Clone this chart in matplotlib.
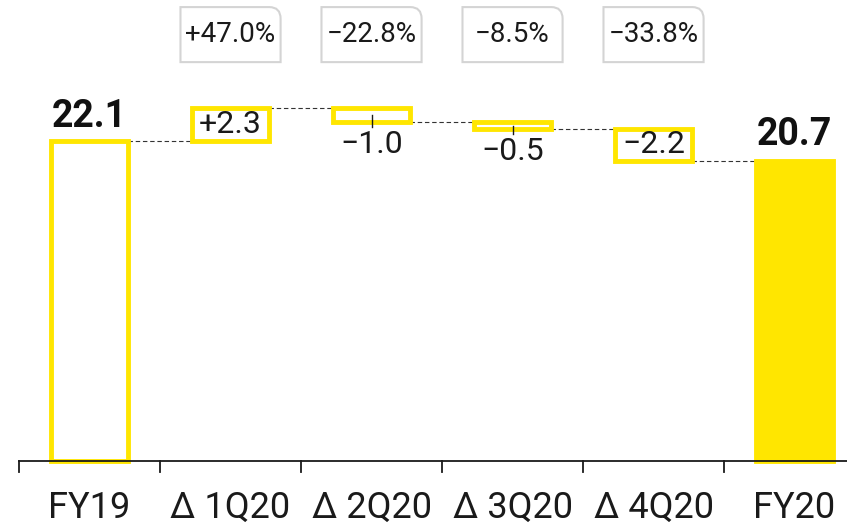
import numpy as np
import matplotlib.pyplot as plt
from matplotlib.path import Path
from matplotlib.patches import PathPatch

plt.rcParams['font.family'] = ['Roboto', 'DejaVu Sans']

# data
categories = ["FY19", "Δ 1Q20", "Δ 2Q20", "Δ 3Q20", "Δ 4Q20", "FY20"]
fy19 = 22.1
fy20 = 20.7
deltas = [2.3, -1.0, -0.5, -2.2]
delta_labels = ["+2.3", "\u22121.0", "\u22120.5", "\u22122.2"]
pct_labels = ["+47.0%", "\u221222.8%", "\u22128.5%", "\u221233.8%"]

yellow = "#FFE600"
w = 0.55

fig = plt.figure(figsize=(8.47, 5.27), dpi=100)
ax = fig.add_axes([0, 0, 1, 1])
ax.set_xlim(-0.635, 5.372)
ax.set_ylim(-4.56, 31.84)

# totals
ax.bar(0, fy19, width=w, facecolor="white", edgecolor=yellow, linewidth=3.5, zorder=2)
ax.bar(5, fy20, width=w, facecolor=yellow, edgecolor=yellow, linewidth=3.5, zorder=2)
ax.text(0, fy19 + 1.0, f"{fy19:.1f}", ha="center", va="baseline", fontsize=27, fontweight="bold", color="#111111")
ax.text(5, fy20 + 1.1, f"{fy20:.1f}", ha="center", va="baseline", fontsize=27, fontweight="bold", color="#111111")

# deltas
level = fy19
for i, (d, lab) in enumerate(zip(deltas, delta_labels)):
    x = i + 1
    bottom = min(level, level + d)
    ax.bar(x, abs(d), bottom=bottom, width=w, facecolor="white", edgecolor=yellow, linewidth=3.5, zorder=2)
    # connector from previous bar
    ax.plot([x - 1 + w / 2, x - w / 2], [level, level], color="#333333", lw=0.8, ls=(0, (4, 2.5)), zorder=1)
    if abs(d) >= 2:
        ax.text(x, bottom + 0.55, lab, ha="center", va="baseline", fontsize=23, color="#1a1a1a", zorder=3)
    else:
        ax.plot([x, x], [bottom + abs(d) / 2, bottom - 0.3], color="#1a1a1a", lw=1, zorder=3)
        ax.text(x, bottom - 2.1, lab, ha="center", va="baseline", fontsize=23, color="#1a1a1a", zorder=3)
    level += d
ax.plot([4 + w / 2, 5 - w / 2], [level, level], color="#333333", lw=0.8, ls=(0, (4, 2.5)), zorder=1)

# percentage boxes (top-right corner rounded)
bw, y0, y1 = 0.71, 27.55, 31.35
rx, ry = 0.08, 0.8
for i, p in enumerate(pct_labels):
    x = i + 1
    l, r = x - bw / 2, x + bw / 2
    verts = [(l, y0), (r, y0), (r, y1 - ry), (r, y1), (r - rx, y1), (l, y1), (l, y0)]
    codes = [Path.MOVETO, Path.LINETO, Path.LINETO, Path.CURVE3, Path.CURVE3, Path.LINETO, Path.CLOSEPOLY]
    ax.add_patch(PathPatch(Path(verts, codes), facecolor="white", edgecolor="#d4d4d4", lw=1.5))
    ax.text(x, 29.45, p, ha="center", va="center", fontsize=20, color="#1a1a1a")

# axis line and category labels
ax.plot([-0.5, 5.5], [0, 0], color="#1a1a1a", lw=1.3, zorder=3)
for b in np.arange(-0.5, 6, 1):
    ax.plot([b, b], [0, -0.75], color="#1a1a1a", lw=1.3, zorder=3)
for i, c in enumerate(categories):
    ax.text(i, -3.95, c, ha="center", va="baseline", fontsize=26, color="#1a1a1a")

ax.axis("off")
fig.savefig("out.png", dpi=100)
